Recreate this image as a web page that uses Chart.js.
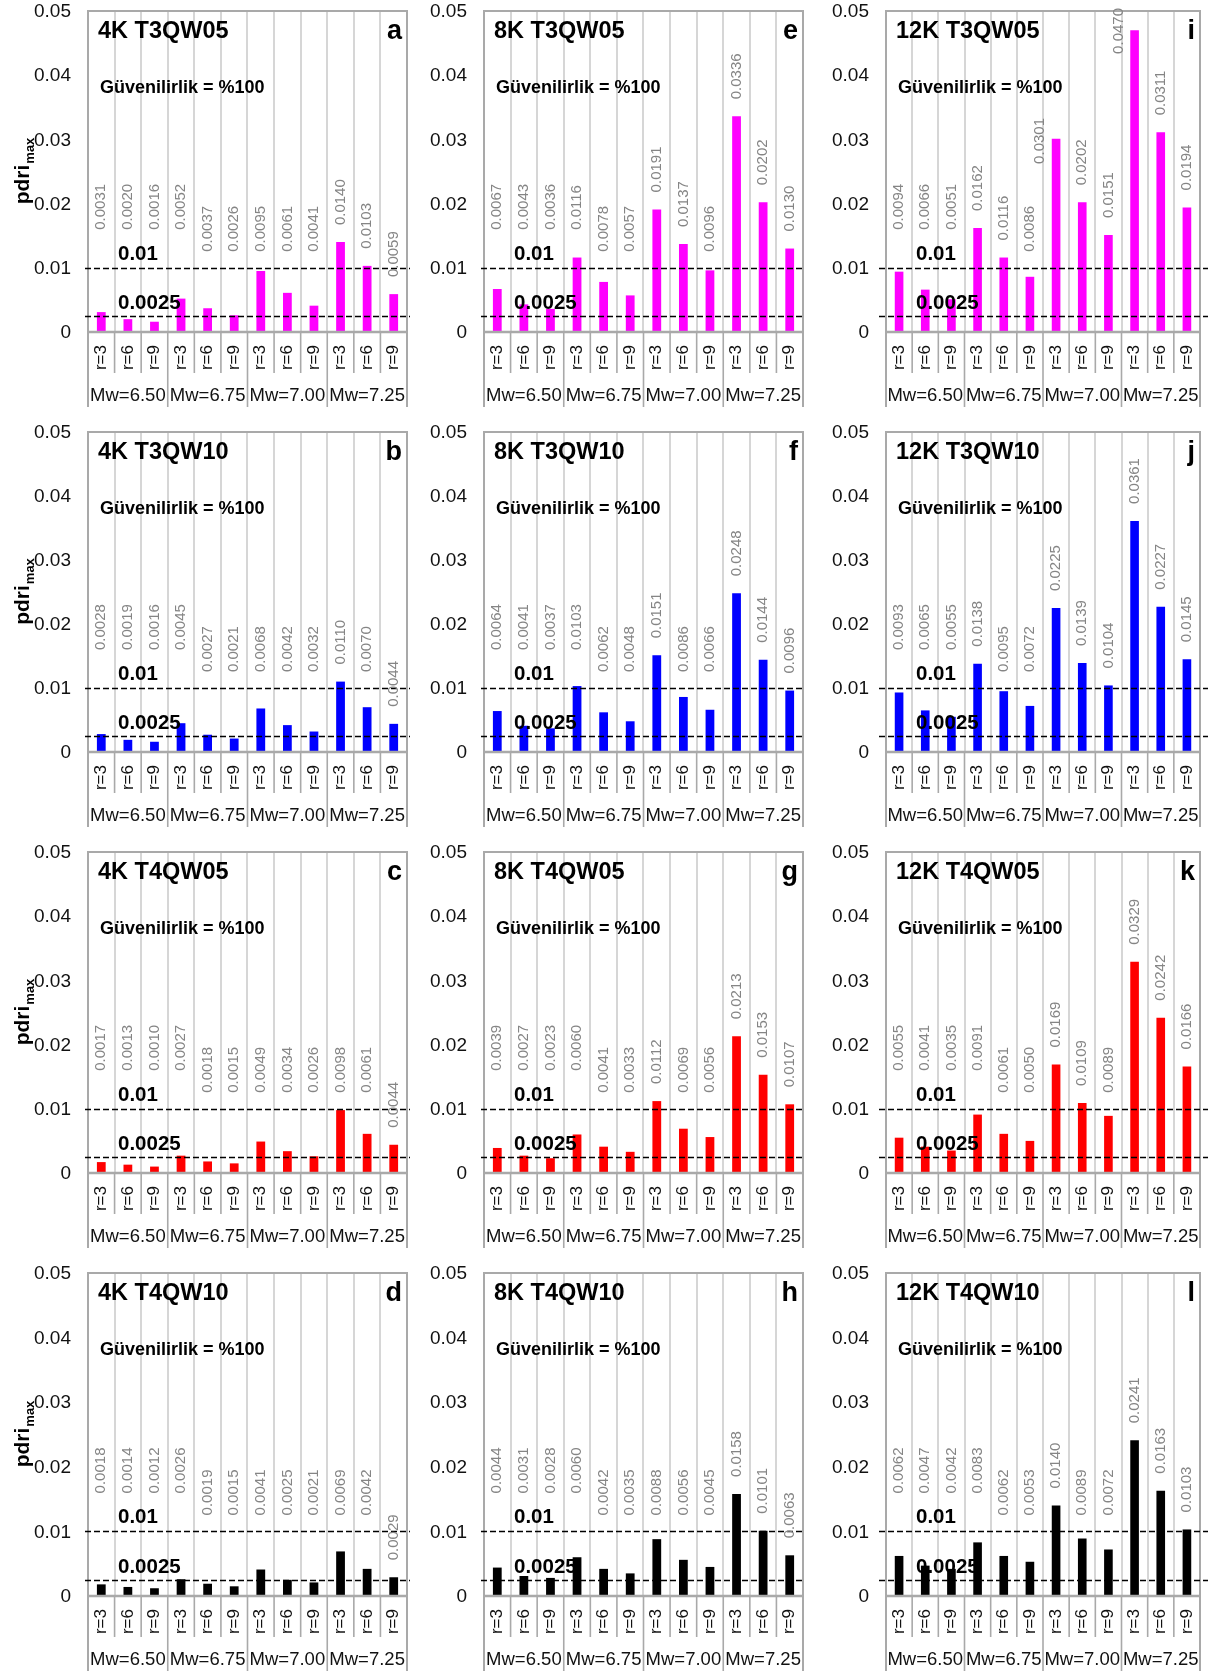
<!DOCTYPE html>
<html>
<head>
<meta charset="utf-8">
<title>pdri_max</title>
<script src="https://cdn.jsdelivr.net/npm/chart.js@4.4.1/dist/chart.umd.min.js"></script>
<style>
  html, body { margin: 0; padding: 0; background: #ffffff; }
  #fig { position: relative; width: 1208px; height: 1677px; overflow: hidden; background: #ffffff; }
  #fig canvas { position: absolute; }
</style>
</head>
<body>
<div id="fig"></div>
<script>
// ---- categories and tick labels ----
const rLabels = ['r=3', 'r=6', 'r=9', 'r=3', 'r=6', 'r=9', 'r=3', 'r=6', 'r=9', 'r=3', 'r=6', 'r=9'];
const mwGroups = ['Mw=6.50', 'Mw=6.75', 'Mw=7.00', 'Mw=7.25'];
const yTickValues = [0, 0.01, 0.02, 0.03, 0.04, 0.05];
const yTickLabels = ['0', '0.01', '0.02', '0.03', '0.04', '0.05'];
const limitValues = [0.01, 0.0025];
const reliabilityText = 'Güvenilirlik = %100';

// ---- pdri_max values, one array per model ----
const pdri4K_T3QW05  = [0.0031, 0.0020, 0.0016, 0.0052, 0.0037, 0.0026, 0.0095, 0.0061, 0.0041, 0.0140, 0.0103, 0.0059];
const pdri8K_T3QW05  = [0.0067, 0.0043, 0.0036, 0.0116, 0.0078, 0.0057, 0.0191, 0.0137, 0.0096, 0.0336, 0.0202, 0.0130];
const pdri12K_T3QW05 = [0.0094, 0.0066, 0.0051, 0.0162, 0.0116, 0.0086, 0.0301, 0.0202, 0.0151, 0.0470, 0.0311, 0.0194];
const pdri4K_T3QW10  = [0.0028, 0.0019, 0.0016, 0.0045, 0.0027, 0.0021, 0.0068, 0.0042, 0.0032, 0.0110, 0.0070, 0.0044];
const pdri8K_T3QW10  = [0.0064, 0.0041, 0.0037, 0.0103, 0.0062, 0.0048, 0.0151, 0.0086, 0.0066, 0.0248, 0.0144, 0.0096];
const pdri12K_T3QW10 = [0.0093, 0.0065, 0.0055, 0.0138, 0.0095, 0.0072, 0.0225, 0.0139, 0.0104, 0.0361, 0.0227, 0.0145];
const pdri4K_T4QW05  = [0.0017, 0.0013, 0.0010, 0.0027, 0.0018, 0.0015, 0.0049, 0.0034, 0.0026, 0.0098, 0.0061, 0.0044];
const pdri8K_T4QW05  = [0.0039, 0.0027, 0.0023, 0.0060, 0.0041, 0.0033, 0.0112, 0.0069, 0.0056, 0.0213, 0.0153, 0.0107];
const pdri12K_T4QW05 = [0.0055, 0.0041, 0.0035, 0.0091, 0.0061, 0.0050, 0.0169, 0.0109, 0.0089, 0.0329, 0.0242, 0.0166];
const pdri4K_T4QW10  = [0.0018, 0.0014, 0.0012, 0.0026, 0.0019, 0.0015, 0.0041, 0.0025, 0.0021, 0.0069, 0.0042, 0.0029];
const pdri8K_T4QW10  = [0.0044, 0.0031, 0.0028, 0.0060, 0.0042, 0.0035, 0.0088, 0.0056, 0.0045, 0.0158, 0.0101, 0.0063];
const pdri12K_T4QW10 = [0.0062, 0.0047, 0.0042, 0.0083, 0.0062, 0.0053, 0.0140, 0.0089, 0.0072, 0.0241, 0.0163, 0.0103];

// ---- styles and layout ----
const seriesColors = { T3QW05: '#ff00ff', T3QW10: '#0000ff', T4QW05: '#ff0000', T4QW10: '#000000' };
const FONT = "'Liberation Sans', Arial, Helvetica, sans-serif";
Chart.defaults.font.family = FONT;

const colLeft  = [88, 484, 886];
const colRight = [407, 803, 1200];
const rowTop   = [11, 432, 852, 1273];
const rowZero  = [332, 752, 1173, 1596];
const dashExt  = [[3, 3], [3, 2], [7, 8]];   // dashed reference lines overhang (left, right)
const AXIS_W = 88, LABEL_H = 80, TOP_PAD = 11;

const panels = [
  { letter: 'a', title: '4K T3QW05',  values: pdri4K_T3QW05,  model: 'T3QW05', col: 0, row: 0 },
  { letter: 'e', title: '8K T3QW05',  values: pdri8K_T3QW05,  model: 'T3QW05', col: 1, row: 0 },
  { letter: 'i', title: '12K T3QW05', values: pdri12K_T3QW05, model: 'T3QW05', col: 2, row: 0 },
  { letter: 'b', title: '4K T3QW10',  values: pdri4K_T3QW10,  model: 'T3QW10', col: 0, row: 1 },
  { letter: 'f', title: '8K T3QW10',  values: pdri8K_T3QW10,  model: 'T3QW10', col: 1, row: 1 },
  { letter: 'j', title: '12K T3QW10', values: pdri12K_T3QW10, model: 'T3QW10', col: 2, row: 1 },
  { letter: 'c', title: '4K T4QW05',  values: pdri4K_T4QW05,  model: 'T4QW05', col: 0, row: 2 },
  { letter: 'g', title: '8K T4QW05',  values: pdri8K_T4QW05,  model: 'T4QW05', col: 1, row: 2 },
  { letter: 'k', title: '12K T4QW05', values: pdri12K_T4QW05, model: 'T4QW05', col: 2, row: 2 },
  { letter: 'd', title: '4K T4QW10',  values: pdri4K_T4QW10,  model: 'T4QW10', col: 0, row: 3 },
  { letter: 'h', title: '8K T4QW10',  values: pdri8K_T4QW10,  model: 'T4QW10', col: 1, row: 3 },
  { letter: 'l', title: '12K T4QW10', values: pdri12K_T4QW10, model: 'T4QW10', col: 2, row: 3 }
];

// Frame, axes labels, reference lines and all annotation text of one panel
const panelDecor = {
  id: 'panelDecor',
  afterDatasetsDraw(chart, _args, o) {
    const ctx = chart.ctx;
    const { left, right, top, bottom } = chart.chartArea;
    const xs = chart.scales.x, ys = chart.scales.y;
    const labels = chart.data.labels;
    const values = chart.data.datasets[0].data;
    const n = labels.length;
    const step = xs.getPixelForValue(1) - xs.getPixelForValue(0);
    const bound = i => xs.getPixelForValue(0) - step / 2 + i * step;
    const groupSize = n / mwGroups.length;

    ctx.save();
    // plot frame (extends down through the category label area)
    ctx.strokeStyle = '#a9a9a9';
    ctx.lineWidth = 2;
    ctx.beginPath();
    ctx.moveTo(left, bottom + 75);
    ctx.lineTo(left, top);
    ctx.lineTo(right, top);
    ctx.lineTo(right, bottom + 75);
    ctx.stroke();
    // zero line
    ctx.lineWidth = 2.5;
    ctx.beginPath();
    ctx.moveTo(left, bottom);
    ctx.lineTo(right, bottom);
    ctx.stroke();
    // separators between category labels
    ctx.lineWidth = 1.6;
    for (let i = 1; i < n; i++) {
      const bx = bound(i);
      const len = (i % groupSize === 0) ? 75 : 41;
      ctx.beginPath();
      ctx.moveTo(bx, bottom);
      ctx.lineTo(bx, bottom + len);
      ctx.stroke();
    }

    // value axis tick labels
    ctx.fillStyle = '#111';
    ctx.font = '19px ' + FONT;
    ctx.textAlign = 'right';
    ctx.textBaseline = 'middle';
    yTickValues.forEach((v, k) => {
      ctx.fillText(yTickLabels[k], left - 17, ys.getPixelForValue(v) + 1);
    });

    // r labels (vertical)
    ctx.font = '17px ' + FONT;
    ctx.textBaseline = 'middle';
    ctx.textAlign = 'right';
    for (let i = 0; i < n; i++) {
      ctx.save();
      ctx.translate(xs.getPixelForValue(i), bottom + 13);
      ctx.rotate(-Math.PI / 2);
      ctx.fillText(labels[i], 0, 0);
      ctx.restore();
    }
    // magnitude group labels
    ctx.font = '18.5px ' + FONT;
    ctx.textAlign = 'center';
    mwGroups.forEach((g, k) => {
      const gx = (bound(k * groupSize) + bound((k + 1) * groupSize)) / 2;
      ctx.fillText(g, gx, bottom + 64);
    });

    // dashed limit lines
    ctx.strokeStyle = '#000';
    ctx.lineWidth = 1.7;
    ctx.setLineDash([6, 3]);
    limitValues.forEach(v => {
      const y = Math.round(ys.getPixelForValue(v)) + 0.5;
      ctx.beginPath();
      ctx.moveTo(left - o.dashL, y);
      ctx.lineTo(right + o.dashR, y);
      ctx.stroke();
    });
    ctx.setLineDash([]);

    // bar value labels (vertical, grey)
    const y01 = ys.getPixelForValue(limitValues[0]);
    ctx.font = 'bold 18px ' + FONT;
    const relW = ctx.measureText(reliabilityText).width;
    const relX = left + 12, relBase = top + 82;
    ctx.font = '15px ' + FONT;
    ctx.fillStyle = '#858585';
    ctx.textAlign = 'left';
    ctx.textBaseline = 'middle';
    for (let i = 0; i < n; i++) {
      const v = values[i];
      const txt = v.toFixed(4);
      const w = ctx.measureText(txt).width;
      let cx = xs.getPixelForValue(i);
      let yb = ys.getPixelForValue(v) - 17;
      if (i < n - 1) yb = Math.min(yb, i < 4 ? y01 - 38 : y01 - 16);
      if (yb - w < top - 3) {
        yb = top - 3 + w;
        cx -= 16;
      } else if (cx + 8 > relX && cx - 8 < relX + relW && yb - w < relBase + 4 && yb > relBase - 14) {
        yb = relBase + 25 + w;
        cx -= 16;
      }
      ctx.save();
      ctx.translate(cx, yb);
      ctx.rotate(-Math.PI / 2);
      ctx.fillText(txt, 0, 0);
      ctx.restore();
    }

    // titles and annotation text
    ctx.fillStyle = '#000';
    ctx.textBaseline = 'alphabetic';
    ctx.textAlign = 'left';
    ctx.font = 'bold 23.5px ' + FONT;
    ctx.fillText(o.title, left + 10, top + 27);
    ctx.font = 'bold 18px ' + FONT;
    ctx.fillText(reliabilityText, relX, relBase);
    ctx.font = 'bold 20.5px ' + FONT;
    limitValues.forEach(v => {
      const y = ys.getPixelForValue(v);
      ctx.fillText(String(v), left + 30, y - (v === limitValues[0] ? 8 : 7));
    });
    ctx.textAlign = 'right';
    ctx.font = 'bold 27px ' + FONT;
    ctx.fillText(o.letter, right - 5, top + 28);

    // y axis title pdri_max
    if (o.yTitle) {
      ctx.save();
      ctx.translate(29, (top + bottom) / 2);
      ctx.rotate(-Math.PI / 2);
      ctx.textAlign = 'left';
      ctx.font = 'bold 21px ' + FONT;
      const w1 = ctx.measureText('pdri').width;
      ctx.font = 'bold 13px ' + FONT;
      const w2 = ctx.measureText('max').width;
      const sx = -(w1 + w2) / 2;
      ctx.font = 'bold 21px ' + FONT;
      ctx.fillText('pdri', sx, 0);
      ctx.font = 'bold 13px ' + FONT;
      ctx.fillText('max', sx + w1 + 1, 5);
      ctx.restore();
    }
    ctx.restore();
  }
};

const fig = document.getElementById('fig');
panels.forEach(p => {
  const c = p.col, r = p.row;
  const x0 = colLeft[c] - AXIS_W;
  const y0 = rowTop[r] - TOP_PAD;
  const w = Math.min(1208, colRight[c] + 10) - x0;
  const h = rowZero[r] - rowTop[r] + TOP_PAD + LABEL_H;
  const padRight = w - (colRight[c] - x0);

  const canvas = document.createElement('canvas');
  canvas.width = w; canvas.height = h;
  canvas.style.left = x0 + 'px'; canvas.style.top = y0 + 'px';
  canvas.style.width = w + 'px'; canvas.style.height = h + 'px';
  fig.appendChild(canvas);

  new Chart(canvas.getContext('2d'), {
    type: 'bar',
    data: {
      labels: rLabels,
      datasets: [{
        data: p.values,
        backgroundColor: seriesColors[p.model],
        borderWidth: 0,
        barPercentage: 0.33,
        categoryPercentage: 1.0
      }]
    },
    options: {
      responsive: false,
      maintainAspectRatio: false,
      animation: false,
      devicePixelRatio: 1,
      layout: { autoPadding: false, padding: { left: AXIS_W, right: padRight, top: TOP_PAD, bottom: LABEL_H } },
      plugins: {
        legend: { display: false },
        tooltip: { enabled: false },
        panelDecor: {
          title: p.title, letter: p.letter, yTitle: c === 0,
          dashL: dashExt[c][0], dashR: dashExt[c][1]
        }
      },
      scales: {
        x: {
          type: 'category',
          display: true,
          grid: { offset: true, color: '#d6d6d6', lineWidth: 2, drawTicks: false },
          border: { display: false },
          ticks: { display: false },
          afterFit(s) { s.height = 0; }
        },
        y: {
          min: 0, max: 0.05,
          display: true,
          afterBuildTicks(s) { s.ticks = yTickValues.map(v => ({ value: v })); },
          ticks: { display: false },
          grid: { display: false, drawTicks: false },
          border: { display: false },
          afterFit(s) { s.width = 0; }
        }
      }
    },
    plugins: [panelDecor]
  });
});
</script>
</body>
</html>
